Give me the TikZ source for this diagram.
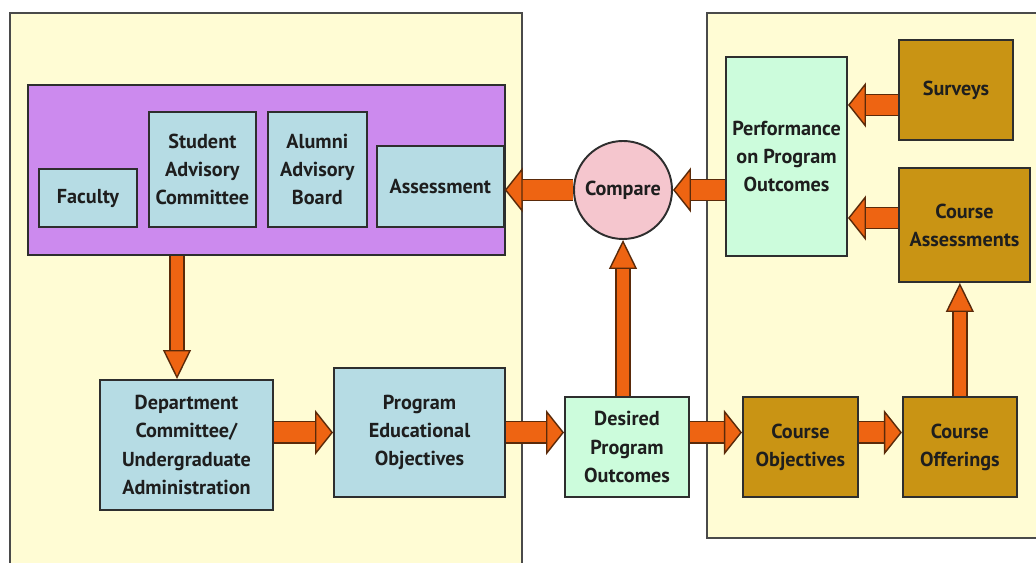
\documentclass[tikz,border=0pt]{standalone}
\usepackage{fontspec}
\setsansfont{PT Sans}
\usepackage{xcolor}
\usetikzlibrary{shapes,arrows.meta,positioning}
\definecolor{panel}{HTML}{FFFCD4}
\definecolor{panelline}{HTML}{4A4A4A}
\definecolor{boxline}{HTML}{2E2E2E}
\definecolor{grouppurple}{HTML}{CC8AEE}
\definecolor{boxblue}{HTML}{B6DCE4}
\definecolor{boxgreen}{HTML}{CCFCDC}
\definecolor{boxgold}{HTML}{C99414}
\definecolor{cmppink}{HTML}{F5C6CE}
\definecolor{arrorange}{HTML}{EE6412}
\definecolor{arrline}{HTML}{5A2A0A}
\definecolor{textdark}{HTML}{1E1E1E}

\begin{document}
\begin{tikzpicture}
\tikzset{txt/.style={font=\sffamily\bfseries\fontsize{11.5}{16}\selectfont,text=textdark,align=center,inner sep=2pt},
bluebox/.style={txt,rectangle,draw=boxline,line width=1.1pt,fill=boxblue},
greenbox/.style={txt,rectangle,draw=boxline,line width=1.1pt,fill=boxgreen},
goldbox/.style={txt,rectangle,draw=boxline,line width=1.1pt,fill=boxgold},
fat/.style n args={3}{line width=#1,draw=arrorange,
  preaction={draw=arrline,line width=#1+1.6pt,-,shorten >=#2-0.05cm},
  -{Triangle[length=#2,width=#3,line width=0.8pt,fill=arrorange,color=arrline]}},
hfat/.style={fat={0.4cm}{0.36cm}{0.9cm}},
vfat/.style={fat={0.25cm}{0.58cm}{0.56cm}}}
\useasboundingbox (0,0) rectangle (20.72,11.26);
% panels
\draw[fill=panel,draw=panelline,line width=0.9pt] (0.2,-0.3) rectangle (10.44,11.0);
\draw[fill=panel,draw=panelline,line width=0.9pt] (14.14,0.5) rectangle (21.0,11.0);
% group of inputs
\node[draw=boxline,line width=1.1pt,fill=grouppurple,minimum width=9.54cm,minimum height=3.4cm](grp) at (5.33,7.86){};
\node[bluebox,minimum width=1.96cm,minimum height=1.16cm,anchor=south west](fac) at (0.76,6.70){Faculty};
\node[bluebox,minimum width=2.14cm,minimum height=2.3cm](sac)[above right=0cm and 0.2cm of fac.south east]{Student\\Advisory\\Committee};
\node[bluebox,minimum width=1.98cm,minimum height=2.3cm](alb)[above right=0cm and 0.2cm of sac.south east]{Alumni\\Advisory\\Board};
\node[bluebox,minimum width=2.54cm,minimum height=1.62cm](ass)[above right=0cm and 0.16cm of alb.south east]{Assessment};
% compare
\node[txt,circle,draw=boxline,line width=1.1pt,fill=cmppink,minimum size=1.96cm](cmp) at (12.46,7.46){Compare};
% right panel
\node[greenbox,minimum width=2.42cm,minimum height=3.98cm](perf) at (15.73,8.13){Performance\\on Program\\Outcomes};
\node[goldbox,minimum width=2.28cm,minimum height=2.0cm](sur) at (19.12,9.46){Surveys};
\node[goldbox,minimum width=2.62cm,minimum height=2.28cm](cass) at (19.29,6.76){Course\\Assessments};
% bottom row
\node[bluebox,minimum width=3.46cm,minimum height=2.6cm](dep) at (3.73,2.36){Department\\Committee/\\Undergraduate\\Administration};
\node[bluebox,minimum width=3.42cm,minimum height=2.58cm](peo) at (8.39,2.61){Program\\Educational\\Objectives};
\node[greenbox,minimum width=2.48cm,minimum height=2.0cm](des) at (12.54,2.32){Desired\\Program\\Outcomes};
\node[goldbox,minimum width=2.3cm,minimum height=2.0cm](cobj)[right=1.04cm of des]{Course\\Objectives};
\node[goldbox,minimum width=2.28cm,minimum height=2.0cm](coff)[right=0.86cm of cobj]{Course\\Offerings};
% arrows
\coordinate (dtop) at ([xshift=-0.19cm]dep.north);
\draw[vfat](dtop |- grp.south) -- (dtop);
\draw[hfat](dep.east |- peo.west) -- (peo.west);
\draw[hfat](peo.east) -- (des.west |- peo.east);
\draw[hfat](des.east |- peo.east) -- (cobj.west |- peo.east);
\draw[hfat](cobj.east |- peo.east) -- (coff.west |- peo.east);
\draw[vfat](des.north -| cmp.south) -- (cmp.south);
\draw[vfat](coff.north) -- (coff.north |- cass.south);
\coordinate (sy) at ([yshift=-0.3cm]sur.west);
\draw[hfat](sy) -- (perf.east |- sy);
\coordinate (cy) at ([yshift=0.14cm]cass.west);
\draw[hfat](cy) -- (perf.east |- cy);
\draw[hfat](perf.west |- cmp.east) -- (cmp.east);
\draw[hfat](cmp.west) -- (ass.east |- cmp.west);
\end{tikzpicture}
\end{document}
